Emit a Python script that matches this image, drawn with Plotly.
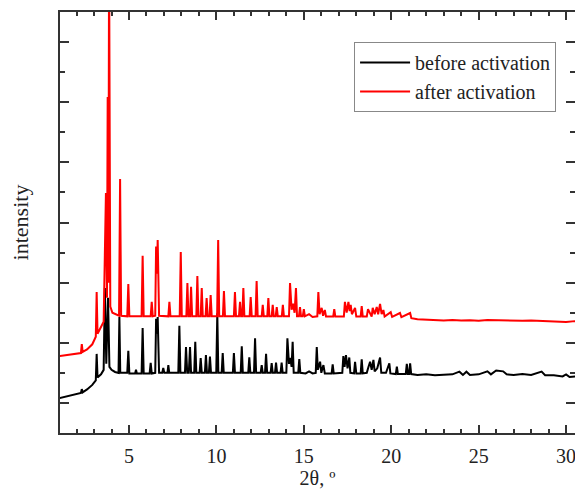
import plotly.graph_objects as go

# 2-theta positions and intensities (arbitrary units)
twotheta_before = [1.0, 1.5, 2.0, 2.25, 2.3, 2.35, 2.6, 2.9, 3.1, 3.15, 3.2, 3.4, 3.55, 3.62, 3.7, 3.8, 3.88, 4.0, 4.2, 4.4, 4.45, 4.5,
                   4.9, 4.96, 5.02, 5.35, 5.4, 5.45, 5.72, 5.78, 5.84, 6.18, 6.24, 6.3, 6.5, 6.55, 6.6, 6.64, 6.72, 6.9, 6.96, 7.02,
                   7.2, 7.25, 7.3, 7.82, 7.88, 7.94, 8.2, 8.26, 8.33, 8.42, 8.49, 8.55, 8.73, 8.79, 8.85, 9.04, 9.1, 9.16, 9.34, 9.4,
                   9.46, 9.57, 9.63, 9.69, 9.99, 10.05, 10.11, 10.3, 10.36, 10.42, 10.94, 11.0, 11.06, 11.39, 11.45, 11.51, 11.82,
                   11.88, 11.94, 12.15, 12.21, 12.27, 12.53, 12.59, 12.65, 12.78, 12.84, 12.9, 13.1, 13.16, 13.22, 13.35, 13.41,
                   13.47, 13.67, 13.73, 13.79, 14.0, 14.06, 14.15, 14.22, 14.3, 14.36, 14.42, 14.68, 14.74, 14.8, 15.1, 15.3, 15.5,
                   15.68, 15.74, 15.8, 15.93, 16.0, 16.12, 16.2, 16.59, 16.65, 16.71, 17.2, 17.26, 17.33, 17.41, 17.5, 17.6, 17.66,
                   17.87, 17.93, 18.0, 18.25, 18.31, 18.37, 18.6, 18.7, 18.79, 18.88, 18.98, 19.05, 19.2, 19.36, 19.43, 19.7, 19.89,
                   19.95, 20.26, 20.32, 20.38, 20.83, 20.89, 20.95, 21.02, 21.08, 21.14, 21.5, 22.0, 22.5, 23.0, 23.5, 23.9, 24.1,
                   24.3, 24.5, 25.0, 25.5, 25.7, 26.0, 26.4, 26.6, 27.0, 27.5, 28.0, 28.6, 28.8, 29.3, 29.8, 30.0, 30.2, 30.6, 31.0]
intensity_before = [1.16, 1.22, 1.30, 1.33, 1.46, 1.35, 1.45, 1.60, 1.75, 2.63, 1.85, 1.95, 2.10, 4.82, 2.30, 4.50, 2.20, 2.10, 2.03, 2.00, 3.86, 2.00,
                    2.00, 2.73, 1.98, 1.98, 2.10, 1.98, 1.98, 3.49, 1.98, 1.98, 2.33, 1.98, 2.00, 3.80, 3.30, 3.86, 2.00, 2.00, 2.16, 2.00,
                    2.00, 2.26, 2.00, 2.00, 3.57, 2.00, 2.00, 2.86, 2.00, 2.00, 2.86, 2.00, 2.00, 3.03, 2.00, 2.00, 2.49, 2.00, 2.00, 2.59,
                    2.00, 2.00, 2.54, 2.00, 2.00, 3.98, 2.00, 2.00, 2.66, 2.00, 2.00, 2.66, 2.00, 2.00, 2.88, 2.00, 2.00,
                    2.52, 2.00, 2.00, 3.15, 2.00, 2.00, 2.26, 2.00, 2.00, 2.63, 2.00, 2.00, 2.32, 2.00, 2.00, 2.34,
                    2.00, 2.00, 2.34, 2.00, 2.00, 3.15, 2.30, 2.50, 2.20, 3.03, 2.00, 2.00, 2.46, 2.00, 1.98, 2.05, 1.98,
                    2.00, 2.86, 2.10, 2.37, 2.00, 2.26, 1.98, 1.98, 2.28, 1.98, 2.00, 2.56, 2.20, 2.59, 2.15, 2.51, 2.00,
                    1.98, 2.37, 1.98, 1.98, 2.45, 1.98, 2.00, 2.20, 2.37, 2.10, 2.43, 2.05, 2.15, 2.51, 2.00, 2.00, 2.32,
                    1.98, 1.96, 2.21, 1.96, 1.96, 2.30, 1.96, 1.96, 2.32, 1.96, 1.93, 1.95, 1.92, 1.93, 1.95, 2.04, 1.93,
                    2.04, 1.93, 1.95, 2.05, 1.95, 2.08, 2.05, 1.95, 1.93, 1.96, 1.93, 2.04, 1.92, 1.92, 1.88, 1.95, 1.86, 1.88, 1.90]

twotheta_after = [1.0, 1.5, 2.0, 2.25, 2.3, 2.35, 2.6, 2.9, 3.1, 3.15, 3.2, 3.4, 3.55, 3.68, 3.74, 3.78, 3.82, 3.86, 3.93, 4.05, 4.3, 4.43, 4.49, 4.55,
                  4.9, 4.96, 5.02, 5.72, 5.78, 5.84, 6.24, 6.3, 6.36, 6.5, 6.55, 6.6, 6.64, 6.72, 7.25, 7.31, 7.37, 7.9, 7.96, 8.02,
                  8.28, 8.34, 8.4, 8.49, 8.55, 8.61, 8.85, 8.91, 8.97, 9.1, 9.16, 9.22, 9.38, 9.44, 9.5, 9.61, 9.67, 9.73, 10.04,
                  10.1, 10.16, 10.37, 10.43, 10.49, 11.0, 11.06, 11.12, 11.29, 11.35, 11.41, 11.48, 11.54, 11.6, 11.9, 11.96, 12.02,
                  12.24, 12.3, 12.36, 12.59, 12.65, 12.71, 12.91, 12.97, 13.03, 13.16, 13.22, 13.28, 13.39, 13.45, 13.51, 13.74,
                  13.8, 13.86, 14.15, 14.21, 14.3, 14.38, 14.47, 14.55, 14.61, 14.72, 14.78, 14.84, 14.94, 15.0, 15.06, 15.3, 15.5,
                  15.77, 15.83, 15.9, 16.02, 16.1, 16.2, 16.27, 16.68, 16.74, 16.8, 17.29, 17.35, 17.45, 17.55, 17.62, 17.68,
                  17.75, 17.93, 18.0, 18.25, 18.31, 18.37, 18.6, 18.67, 18.88, 18.94, 19.05, 19.17, 19.25, 19.36, 19.45, 19.55,
                  19.62, 19.97, 20.05, 20.5, 20.58, 21.08, 21.15, 21.5, 22.0, 22.5, 23.0, 23.5, 24.0, 24.5, 25.0, 25.5, 26.0,
                  26.5, 27.0, 27.5, 28.0, 28.5, 29.0, 29.5, 30.0, 30.5, 31.0]
intensity_after = [2.56, 2.60, 2.63, 2.66, 2.96, 2.70, 2.78, 2.95, 3.20, 4.69, 3.30, 3.50, 3.70, 7.98, 4.50, 11.17, 5.00, 16.0, 4.20, 4.00, 3.92, 3.90, 8.45, 3.90,
                   3.88, 4.95, 3.88, 3.88, 5.89, 3.88, 3.88, 4.36, 3.88, 3.90, 6.20, 5.30, 6.42, 3.90, 3.88, 4.36, 3.88, 3.88, 6.02, 3.88,
                   3.88, 4.99, 3.88, 3.88, 4.86, 3.88, 3.88, 5.22, 3.88, 3.88, 4.82, 3.88, 3.88, 4.49, 3.88, 3.88, 4.59, 3.88, 3.88,
                   6.42, 3.88, 3.88, 4.72, 3.88, 3.88, 4.69, 3.88, 3.88, 4.36, 3.88, 3.88, 4.82, 3.88, 3.88, 4.52, 3.88,
                   3.88, 5.05, 3.88, 3.88, 4.26, 3.88, 3.88, 4.49, 3.88, 3.88, 4.26, 3.88, 3.88, 4.19, 3.88, 3.88,
                   4.26, 3.88, 3.88, 4.99, 4.10, 4.30, 4.00, 4.82, 3.88, 3.88, 4.19, 3.88, 3.88, 4.12, 3.88, 3.95, 3.86,
                   3.88, 4.69, 3.95, 4.16, 3.90, 4.09, 3.87, 3.87, 4.12, 3.87, 3.87, 4.36, 4.00, 4.36, 4.05, 4.26,
                   3.95, 4.16, 3.87, 3.87, 4.22, 3.87, 3.87, 4.12, 3.87, 4.16, 3.95, 4.19, 3.95, 4.29, 3.95, 4.09,
                   3.87, 4.02, 3.86, 3.99, 3.85, 3.99, 3.82, 3.78, 3.76, 3.75, 3.74, 3.76, 3.74, 3.75, 3.73, 3.76, 3.75,
                   3.74, 3.75, 3.73, 3.74, 3.73, 3.72, 3.70, 3.69, 3.72, 3.72]

series_names = ["before activation", "after activation"]
series_colors = ["#000000", "#ff0000"]

FONT = "Liberation Serif"
AXIS_COLOR = "#333333"
TEXT_COLOR = "#222222"

fig = go.Figure()
fig.add_trace(go.Scatter(x=twotheta_before, y=intensity_before, mode="lines", name=series_names[0],
                         line=dict(color=series_colors[0], width=2)))
fig.add_trace(go.Scatter(x=twotheta_after, y=intensity_after, mode="lines", name=series_names[1],
                         line=dict(color=series_colors[1], width=2)))
# invisible trace to carry right-hand ticks
fig.add_trace(go.Scatter(x=[None], y=[None], yaxis="y2", showlegend=False, hoverinfo="skip"))

fig.update_layout(
    width=567, height=481,
    margin=dict(l=52, r=0, t=4, b=56, autoexpand=False),
    paper_bgcolor="white", plot_bgcolor="white",
    font=dict(family=FONT, size=18, color=TEXT_COLOR),
    showlegend=True,
    legend=dict(x=0.571, y=0.929, xanchor="left", yanchor="top",
                bordercolor="#888888", borderwidth=1, bgcolor="white",
                font=dict(family=FONT, size=20, color=TEXT_COLOR),
                tracegroupgap=0, itemwidth=50),
    xaxis=dict(range=[1.053, 30.51], showgrid=False, zeroline=False, automargin=False,
               showline=True, linecolor=AXIS_COLOR, linewidth=2, mirror="ticks",
               ticks="inside", ticklen=8, tickwidth=1.5, tickcolor=AXIS_COLOR,
               tick0=0, dtick=5, ticklabelstandoff=4, ticklabeloverflow="allow",
               tickfont=dict(family=FONT, size=20, color=TEXT_COLOR),
               minor=dict(ticks="inside", ticklen=4, tickwidth=1.5, tickcolor=AXIS_COLOR, dtick=1, showgrid=False),
               title=dict(text="2θ, º", font=dict(family=FONT, size=20, color=TEXT_COLOR), standoff=2)),
    yaxis=dict(range=[0, 14], showgrid=False, zeroline=False, automargin=False,
               showline=True, linecolor=AXIS_COLOR, linewidth=2, mirror=False,
               ticks="inside", ticklen=9, tickwidth=1.5, tickcolor=AXIS_COLOR,
               tick0=1, dtick=2, showticklabels=False,
               minor=dict(ticks="inside", ticklen=5, tickwidth=1.5, tickcolor=AXIS_COLOR, dtick=1, showgrid=False),
               title=dict(text="intensity", font=dict(family=FONT, size=22, color=TEXT_COLOR), standoff=24)),
    yaxis2=dict(range=[0, 14], overlaying="y", side="right", anchor="x", showgrid=False, zeroline=False,
                automargin=False, showline=False, ticks="inside", ticklen=9, tickwidth=1.5, tickcolor=AXIS_COLOR,
                tick0=1, dtick=2, showticklabels=False,
                minor=dict(ticks="inside", ticklen=5, tickwidth=1.5, tickcolor=AXIS_COLOR, dtick=1, showgrid=False)),
)

fig.write_html("out.html")
